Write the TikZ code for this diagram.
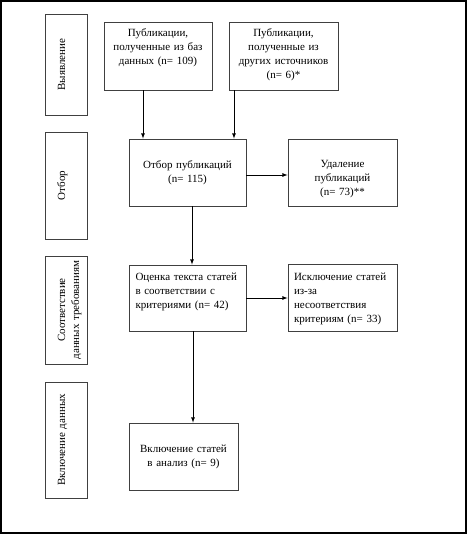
\documentclass[tikz,border=0pt]{standalone}
\usepackage{fontspec}
\setmainfont{Liberation Serif}
\usepackage{tikz}

\tikzset{
  box/.style={draw=black!75,line width=0.8pt,inner sep=3pt,
    font=\fontsize{11}{14}\selectfont},
  stage/.style={box,rotate=90,align=center,minimum height=42pt,
    text height=17pt,text depth=19pt},
}

\begin{document}
\begin{tikzpicture}[x=1pt,y=1pt,node distance=125.5pt,>=latex,line width=0.8pt]
      \useasboundingbox (0,0) rectangle (467,-534);
      \draw[line width=1.5pt] (1,-1) rectangle (466,-533);

      %% stages on the left
      \node[stage,text width=95pt] (s1) at (66,-64.5) {Выявление};
      \node[stage,text width=101pt] (s2) at (66,-185.5) {Отбор};
      \node[stage,text width=102pt] (s3) at (66,-310) {Соответствие\\данных требованиям};
      \node[stage,text width=110pt] (s4) at (66,-440) {Включение данных};

      %% flow
      \node[box,align=center,text width=102pt,text height=11.5pt,text depth=50.5pt] (a) at (158,-56)
        {Публикации,\\полученные из баз\\данных (n= 109)};
      \node[box,align=center,text width=103pt,text height=11.5pt,text depth=50.5pt,right of=a] (b)
        {Публикации,\\полученные из\\других источников\\(n= 6)*};
      \node[box,align=center,text width=111pt,minimum height=67pt,below of=a,xshift=29.5pt,yshift=9pt] (c)
        {Отбор публикаций\\(n= 115)};
      \node[box,align=center,text width=103pt,text height=26pt,text depth=35pt,right of=c,xshift=29.5pt] (d)
        {Удаление\\публикаций\\(n= 73)**};
      \node[box,align=left,inner xsep=6.5pt,text width=104pt,text height=12pt,text depth=48pt,below of=c] (e)
        {Оценка текста статей\\в соответствии с\\критериями (n= 42)};
      \node[box,align=left,inner xsep=6pt,text width=97pt,text height=13pt,text depth=48pt,right of=e,xshift=29.5pt] (f)
        {Исключение статей\\из-за\\несоответствия\\критериям (n= 33)};
      \node[box,align=center,text width=103pt,minimum height=67pt,below of=e,xshift=-4pt,yshift=-33pt] (g)
        {Включение статей\\в анализ (n= 9)};

      \draw[->] ([xshift=-15pt]a.south) -- ([xshift=-15pt]a.south |- c.north);
      \draw[->] ([xshift=-49.5pt]b.south) -- ([xshift=-49.5pt]b.south |- c.north);
      \draw[->] ([yshift=-2.5pt]c.east) -- ([yshift=-2.5pt]c.east -| d.west);
      \draw[->] ([xshift=4.5pt]c.south) -- ([xshift=4.5pt]c.south |- e.north);
      \draw[->] (e.east) -- (e.east -| f.west);
      \draw[->] ([xshift=5.5pt]e.south) -- ([xshift=5.5pt]e.south |- g.north);
    \end{tikzpicture}
\end{document}
